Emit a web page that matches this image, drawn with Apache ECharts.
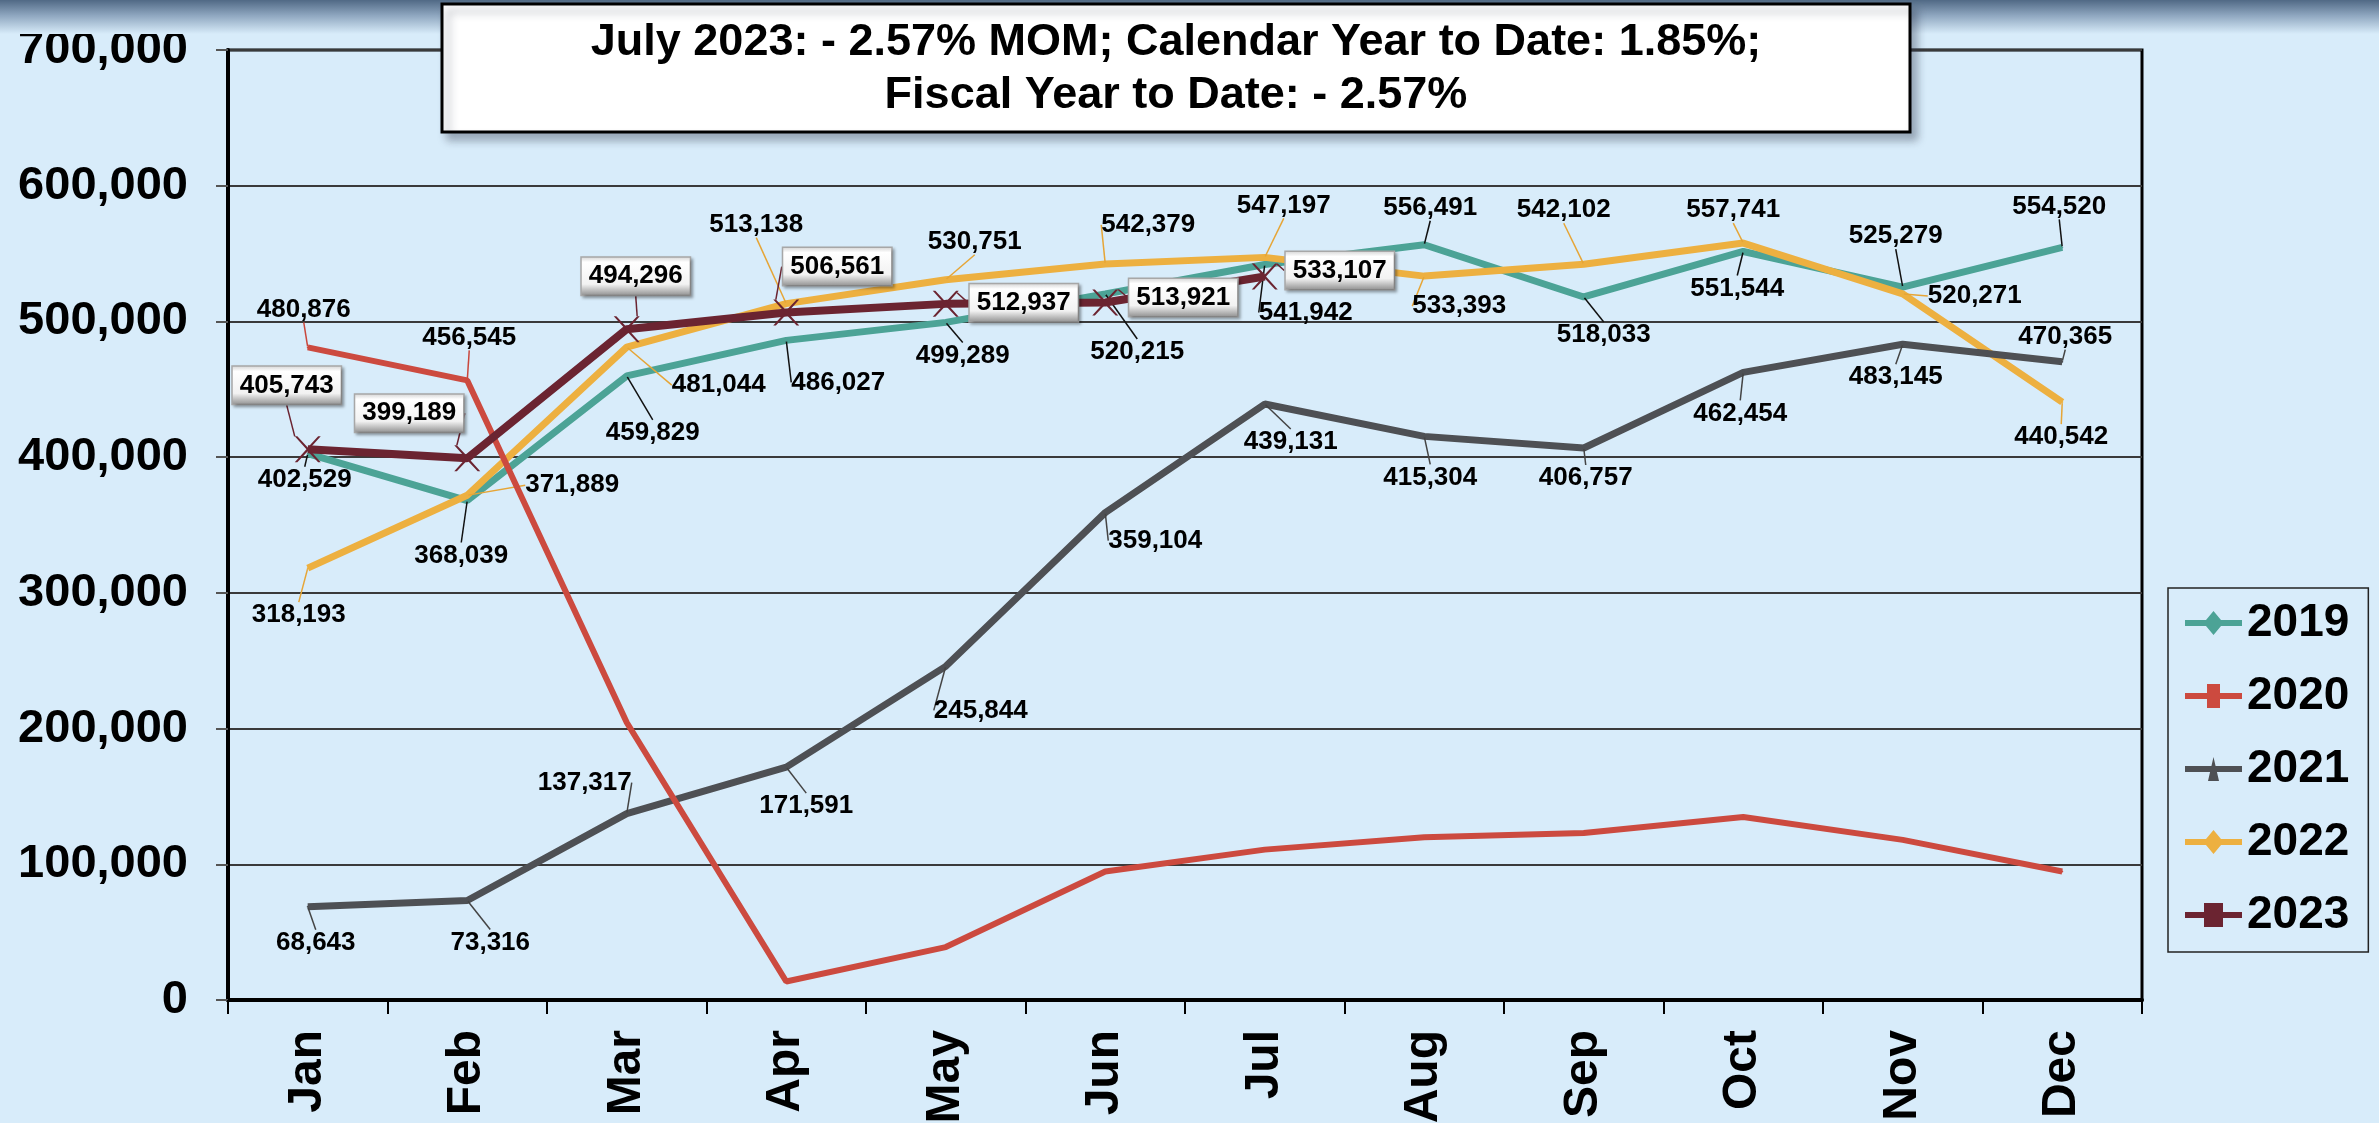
<!DOCTYPE html>
<html>
<head>
<meta charset="utf-8">
<title>Monthly totals 2019-2023</title>
<script src="https://cdn.jsdelivr.net/npm/echarts@6/dist/echarts.min.js"></script>
<style>
  html, body { margin: 0; padding: 0; background: #D8ECFA; }
  #main { width: 2379px; height: 1123px; }
</style>
</head>
<body>
<div id="main"></div>
<script>
var FONT = '"Liberation Sans", Arial, sans-serif'

var months = ['Jan', 'Feb', 'Mar', 'Apr', 'May', 'Jun', 'Jul', 'Aug', 'Sep', 'Oct', 'Nov', 'Dec']
var yTicks = [0, 100000, 200000, 300000, 400000, 500000, 600000, 700000]

var s2019 = [402529, 368039, 459829, 486027, 499289, 520215, 541942, 556491, 518033, 551544, 525279, 554520]
var s2020 = [480876, 456545, 204500, 13600, 39000, 94700, 110800, 120000, 123000, 134900, 118000, 94700]
var s2021 = [68643, 73316, 137317, 171591, 245844, 359104, 439131, 415304, 406757, 462454, 483145, 470365]
var s2022 = [318193, 371889, 481044, 513138, 530751, 542379, 547197, 533393, 542102, 557741, 520271, 440542]
var s2023 = [405743, 399189, 494296, 506561, 512937, 513921, 533107]

var titleLines = [
  'July 2023: - 2.57% MOM; Calendar Year to Date: 1.85%;',
  'Fiscal Year to Date: - 2.57%'
]

// where each value label sits, relative to its point (px); null = no label
var off2019 = [[-3, 26], [-6, 55], [26, 57], [52, 42], [17, 33], [32, 58], [41, 48], [6, -37], [20, 38], [-6, 37], [-7, -51], [-3, -41]]
var off2020 = [[-4, -38], [2, -43], null, null, null, null, null, null, null, null, null, null]
var off2021 = [[8, 36], [23, 42], [-42, -31], [20, 39], [35, 44], [50, 28], [26, 38], [6, 41], [2, 30], [-3, 41], [-7, 33], [3, -25]]
var off2022 = [[-9, 47], [105, -10], [92, 38], [-30, -79], [29, -38], [43, -39], [19, -52], [35, 30], [-20, -54], [-10, -33], [72, 2], [-1, 35]]
var off2023 = [[-21, -64], [-58, -45], [9, -53], [51, -46], [78, -1], [78, -5], [75, -6]]

var BAR = 'M0,9L57,9L57,15L0,15Z '
var icons = {
  '2019': 'path://' + BAR + 'M28.5,0L38.5,12L28.5,24L18.5,12Z',
  '2020': 'path://' + BAR + 'M22,0L35,0L35,24L22,24Z',
  '2021': 'path://' + BAR + 'M28.5,0L34,24L23,24Z',
  '2022': 'path://' + BAR + 'M28.5,0L38.5,12L28.5,24L18.5,12Z',
  '2023': 'path://' + BAR + 'M19,0L38,0L38,24L19,24Z'
}
var xMark = 'path://M0,0L2,0L10,8.5L18,0L20,0L11,10L20,20L18,20L10,11.5L2,20L0,20L9,10Z'

function fmt (v) {
  return v.toLocaleString('en-US')
}

function mk (name, values, offs, color, leader, width, z, boxed) {
  var label = {
    show: true,
    color: '#000',
    fontSize: 26,
    fontWeight: 'bold',
    fontFamily: FONT,
    formatter: function (p) { return fmt(p.value) }
  }
  if (boxed) {
    label.backgroundColor = {
      type: 'linear', x: 0, y: 0, x2: 0, y2: 1,
      colorStops: [
        { offset: 0, color: '#d0d0d0' },
        { offset: 0.15, color: '#ffffff' },
        { offset: 0.7, color: '#f2f2f2' },
        { offset: 1, color: '#8c8c8c' }
      ]
    }
    label.borderColor = '#a8a8a8'
    label.borderWidth = 1.5
    label.padding = [6, 7, 5, 7]
    label.shadowColor = 'rgba(0,0,0,0.3)'
    label.shadowBlur = 3
    label.shadowOffsetX = 2
    label.shadowOffsetY = 2
  }
  return {
    name: name,
    type: 'line',
    z: z,
    data: values.map(function (v, i) {
      return { value: v, label: { show: offs[i] != null } }
    }),
    symbol: boxed ? xMark : 'circle',
    symbolSize: boxed ? 26 : 2,
    showSymbol: true,
    lineStyle: { color: color, width: width },
    itemStyle: { color: color },
    label: label,
    labelLine: { show: true, lineStyle: { color: leader, width: 1.5 } },
    labelLayout: function (p) {
      var o = offs[p.dataIndex]
      if (!o) return {}
      return {
        x: p.rect.x + p.rect.width / 2 + o[0],
        y: p.rect.y + p.rect.height / 2 + o[1],
        align: 'center',
        verticalAlign: 'middle'
      }
    },
    emphasis: { disabled: true }
  }
}

var myChart = echarts.init(document.getElementById('main'))

var option = {
  backgroundColor: '#D8ECFA',
  animation: false,
  textStyle: { fontFamily: FONT },
  grid: {
    left: 228,
    top: 50,
    width: 1914,
    height: 950,
    show: true,
    borderColor: '#000',
    borderWidth: 3,
    backgroundColor: 'transparent',
    outerBoundsMode: 'none'
  },
  xAxis: {
    type: 'category',
    data: months,
    boundaryGap: true,
    axisLine: { lineStyle: { color: '#000', width: 4 } },
    axisTick: { show: true, length: 14, lineStyle: { color: '#000', width: 2 } },
    axisLabel: {
      rotate: 90,
      margin: 30,
      fontSize: 48,
      fontWeight: 'bold',
      color: '#000',
      fontFamily: FONT
    },
    splitLine: { show: false }
  },
  yAxis: {
    type: 'value',
    min: yTicks[0],
    max: yTicks[yTicks.length - 1],
    interval: yTicks[1] - yTicks[0],
    axisLine: { show: true, lineStyle: { color: '#000', width: 4 } },
    axisTick: { show: true, length: 12, lineStyle: { color: '#555', width: 2 } },
    axisLabel: {
      margin: 40,
      fontSize: 47,
      fontWeight: 'bold',
      color: '#000',
      fontFamily: FONT,
      formatter: fmt
    },
    splitLine: { show: true, lineStyle: { color: '#3a3a3a', width: 2 } }
  },
  legend: {
    orient: 'vertical',
    left: 2168,
    top: 588,
    padding: [10, 19, 12, 17],
    itemWidth: 57,
    itemHeight: 24,
    itemGap: 23,
    borderColor: '#222',
    borderWidth: 1.5,
    backgroundColor: 'transparent',
    selectedMode: false,
    textStyle: { fontSize: 46, fontWeight: 'bold', color: '#000', lineHeight: 50, fontFamily: FONT },
    data: ['2019', '2020', '2021', '2022', '2023'].map(function (n) {
      return { name: n, icon: icons[n] }
    })
  },
  graphic: [
    {
      type: 'rect',
      z: 1,
      silent: true,
      shape: { x: 0, y: 0, width: 2379, height: 34 },
      style: {
        fill: {
          type: 'linear', x: 0, y: 0, x2: 0, y2: 1,
          colorStops: [
            { offset: 0, color: '#506985' },
            { offset: 0.45, color: '#8ea6bf' },
            { offset: 1, color: '#D8ECFA' }
          ]
        }
      }
    },
    {
      type: 'rect',
      z: 100,
      shape: { x: 442, y: 4, width: 1468, height: 128 },
      style: {
        fill: '#fff',
        stroke: '#000',
        lineWidth: 3,
        shadowBlur: 8,
        shadowOffsetX: 6,
        shadowOffsetY: 7,
        shadowColor: 'rgba(40,50,70,0.35)'
      }
    },
    {
      type: 'text',
      z: 101,
      x: 1176,
      y: 43,
      style: {
        text: titleLines[0],
        font: 'bold 45px ' + FONT,
        fill: '#000',
        align: 'center',
        verticalAlign: 'middle'
      }
    },
    {
      type: 'text',
      z: 101,
      x: 1176,
      y: 96,
      style: {
        text: titleLines[1],
        font: 'bold 45px ' + FONT,
        fill: '#000',
        align: 'center',
        verticalAlign: 'middle'
      }
    }
  ],
  series: [
    mk('2019', s2019, off2019, '#4CA396', '#111', 7, 3, false),
    mk('2022', s2022, off2022, '#EDB040', '#E6A536', 7, 4, false),
    mk('2021', s2021, off2021, '#4E5054', '#444', 7, 5, false),
    mk('2020', s2020, off2020, '#CC4A3F', '#C9473C', 6, 6, false),
    mk('2023', s2023, off2023, '#6B2431', '#6B2431', 8, 7, true)
  ]
}

myChart.setOption(option)
</script>
</body>
</html>
